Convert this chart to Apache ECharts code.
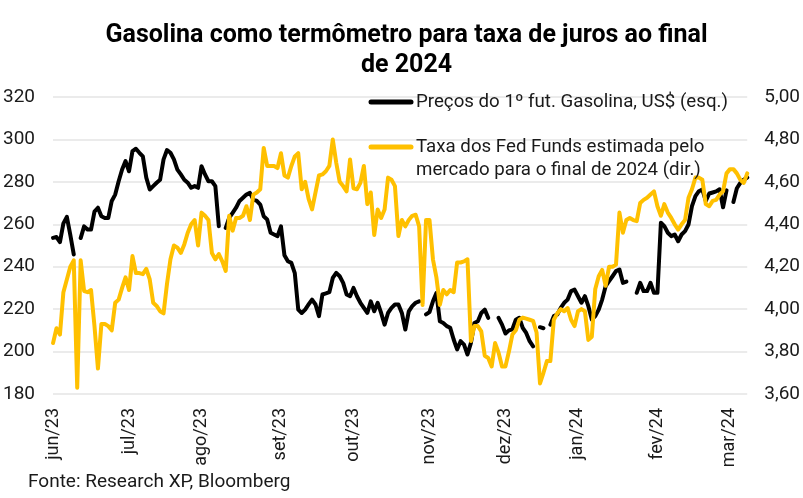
<!DOCTYPE html>
<html>
<head>
<meta charset="utf-8">
<script src="https://cdn.jsdelivr.net/npm/echarts@6/dist/echarts.min.js"></script>
<style>
html, body { margin: 0; padding: 0; background: #ffffff; }
#chart { width: 803px; height: 498px; }
</style>
</head>
<body>
<div id="chart"></div>
<script>
// ---- Data ----
const titleText = 'Gasolina como termômetro para taxa de juros ao final\nde 2024';
const sourceText = 'Fonte: Research XP, Bloomberg';
const gasName = 'Preços do 1º fut. Gasolina, US$ (esq.)';
const fedName = 'Taxa dos Fed Funds estimada pelo\nmercado para o final de 2024 (dir.)';
const monthNames = ['jan','fev','mar','abr','mai','jun','jul','ago','set','out','nov','dez'];
const firstDay = '2023-06-01';
const lastDay = '2024-03-08';
const leftTicks = [180, 200, 220, 240, 260, 280, 300, 320];
const rightTicks = [3.60, 3.80, 4.00, 4.20, 4.40, 4.60, 4.80, 5.00];

// Front-month gasoline futures, US$ cents/gal (left axis), one value per trading day
const gasoline = [
  253.6, 254, 251.6, 260.4, 263.5, 255, 245.8, null, 253.5, 259,
  257.5, 257.5, 266, 267.8, 263.8, 263, 263, 271, 274, 280.3,
  285.8, 289.8, 285, 294.5, 295.6, 293.7, 292, 282, 276.4, 278,
  279.6, 281, 290.6, 295, 293.7, 290.6, 285.8, 283.5, 281, 279.6,
  277.2, 278, 277.2, 287.4, 283.5, 280.3, 280.3, 278, 259.1, null,
  258.3, 263, 265.4, 267.8, 271, 272.5, 274, 274.8, 271.7, 271,
  269.3, 263.8, 262.3, 256, 255.2, 254.4, 259, 245.4, 242.6, 241.8,
  237, 219.8, 218.2, 219.8, 222.2, 224.5, 222.2, 216.7, 226.9, 227.4,
  228, 234.7, 237.1, 235.5, 232.4, 226.9, 226.1, 230, 226.1, 223,
  220.6, 218.2, 223.7, 219, 223, 218.2, 212.7, 218.2, 220.6, 222.2,
  222.2, 218.2, 210.4, 219, 221.4, 223, 223.7, null, 217.5, 218.6,
  223.7, 227.6, 214.3, 213.5, 212, 211.2, 205.7, 201, 204.9, 203.3,
  198.6, 204.1, 213.5, 214.3, 218.2, 219.8, 215.9, null, null, 215.9,
  212.7, 208.5, 210, 210.5, 215, 215.9, 211.2, 208.8, 204.9, 202.5,
  null, 211.5, 211, null, 212.7, 216.7, 217.5, 220.6, 223, 224.5,
  228.5, 229.2, 226.1, 223, 226.1, 221.4, 215.1, 216.7, 219.8, 224.5,
  230.8, 233.2, 235.5, 237.9, 238.7, 232.4, 233, null, null, 227.7,
  232.4, 228.5, 228.5, 232.4, 227.7, 227.7, 260.7, 259.1, 256, 254.4,
  255.2, 252, 255.2, 256.8, 259.9, 268.6, 273.3, 275.6, 276.4, 271,
  274.5, 275, 275.5, 276.5, 268, 276, null, 270.5, 277, 279.5,
  281, 282
];

// Market-implied Fed Funds rate for end-2024, % (right axis)
const fedFunds = [
  3.84, 3.91, 3.88, 4.08, 4.14, 4.20, 4.23, 3.63, 4.23, 4.085,
  4.08, 4.09, 3.92, 3.72, 3.93, 3.93, 3.92, 3.90, 4.03, 4.045,
  4.10, 4.15, 4.09, 4.25, 4.17, 4.17, 4.165, 4.19, 4.14, 4.03,
  4.015, 3.99, 3.98, 4.12, 4.235, 4.30, 4.29, 4.265, 4.305, 4.36,
  4.40, 4.42, 4.30, 4.455, 4.44, 4.42, 4.265, 4.235, 4.26, 4.225,
  4.18, 4.44, 4.37, 4.43, 4.43, 4.44, 4.485, 4.42, 4.54, 4.55,
  4.565, 4.76, 4.675, 4.675, 4.675, 4.665, 4.735, 4.63, 4.62, 4.675,
  4.72, 4.735, 4.565, 4.60, 4.52, 4.47, 4.55, 4.63, 4.635, 4.65,
  4.675, 4.80, 4.69, 4.60, 4.58, 4.555, 4.705, 4.57, 4.565, 4.595,
  4.675, 4.495, 4.55, 4.35, 4.47, 4.43, 4.47, 4.62, 4.61, 4.58,
  4.345, 4.42, 4.39, 4.42, 4.44, 4.445, 4.39, 4.02, 4.42, 4.42,
  4.235, 4.15, 4.02, 4.09, 4.07, 4.09, 4.08, 4.22, 4.22, 4.225,
  4.235, 3.85, 3.92, 3.92, 3.895, 3.78, 3.77, 3.73, 3.84, 3.795,
  3.73, 3.73, 3.80, 3.88, 3.90, 3.95, 3.96, 3.955, 3.95, 3.945,
  3.89, 3.65, 3.70, 3.755, 3.755, 3.95, 3.98, 4.00, 3.99, 4.005,
  3.95, 3.92, 3.99, 4.00, 3.99, 3.855, 3.87, 4.095, 4.155, 4.185,
  4.11, 4.20, 4.20, 4.21, 4.455, 4.36, 4.42, 4.43, 4.42, 4.415,
  4.50, 4.515, 4.525, 4.54, 4.555, 4.485, 4.44, 4.495, 4.455, 4.43,
  4.40, 4.375, 4.40, 4.42, 4.525, 4.565, 4.62, 4.62, 4.61, 4.495,
  4.485, 4.51, 4.515, 4.54, 4.555, 4.64, 4.66, 4.66, 4.64, 4.61,
  4.595, 4.64
];

// ---- Trading-day categories (weekdays) ----
function buildTradingDays(a, b) {
  const out = [];
  const d = new Date(a + 'T00:00:00Z');
  const end = new Date(b + 'T00:00:00Z');
  while (d <= end) {
    const wd = d.getUTCDay();
    if (wd !== 0 && wd !== 6) out.push(d.toISOString().slice(0, 10));
    d.setUTCDate(d.getUTCDate() + 1);
  }
  return out;
}
const days = buildTradingDays(firstDay, lastDay);

const FONT = 'Roboto, "Noto Sans", sans-serif';
const TEXT = '#1a1a1a';
const BLACK = '#000000';
const GOLD = '#FFC000';

const chart = echarts.init(document.getElementById('chart'), null, { renderer: 'canvas' });

chart.setOption({
  backgroundColor: '#ffffff',
  animation: false,
  textStyle: { fontFamily: FONT },
  title: {
    text: titleText,
    left: '50%',
    top: 16,
    textAlign: 'center',
    textStyle: { fontFamily: FONT, fontSize: 25, fontWeight: 'bold', color: '#000', lineHeight: 30 }
  },
  grid: { left: 53, right: 55, top: 97, bottom: 104, containLabel: false },
  xAxis: {
    type: 'category',
    data: days,
    boundaryGap: false,
    axisLine: { show: false },
    axisTick: { show: false },
    splitLine: { show: false },
    axisLabel: {
      rotate: 90,
      margin: 14,
      fontSize: 18,
      color: TEXT,
      fontFamily: FONT,
      interval: function (idx, val) {
        return idx === 0 || val.slice(0, 7) !== days[idx - 1].slice(0, 7);
      },
      formatter: function (val) {
        const m = parseInt(val.slice(5, 7), 10) - 1;
        return monthNames[m] + '/' + val.slice(2, 4);
      }
    }
  },
  yAxis: [
    {
      type: 'value',
      position: 'left',
      min: leftTicks[0],
      max: leftTicks[leftTicks.length - 1],
      interval: leftTicks[1] - leftTicks[0],
      axisLine: { show: false },
      axisTick: { show: false },
      axisLabel: { fontSize: 19, color: TEXT, margin: 18, fontFamily: FONT },
      splitLine: { show: true, lineStyle: { color: '#ebebeb', width: 2 } }
    },
    {
      type: 'value',
      position: 'right',
      min: rightTicks[0],
      max: rightTicks[rightTicks.length - 1],
      interval: 0.2,
      axisLine: { show: false },
      axisTick: { show: false },
      axisLabel: {
        fontSize: 19, color: TEXT, margin: 17, fontFamily: FONT,
        formatter: function (v) { return v.toFixed(2).replace('.', ','); }
      },
      splitLine: { show: false }
    }
  ],
  series: [
    {
      name: gasName,
      type: 'line',
      yAxisIndex: 0,
      data: gasoline,
      showSymbol: false,
      symbol: 'none',
      connectNulls: false,
      lineStyle: { color: BLACK, width: 4, join: 'round', cap: 'round' },
      itemStyle: { color: BLACK },
      z: 2
    },
    {
      name: fedName,
      type: 'line',
      yAxisIndex: 1,
      data: fedFunds,
      showSymbol: false,
      symbol: 'none',
      lineStyle: { color: GOLD, width: 4, join: 'round', cap: 'round' },
      itemStyle: { color: GOLD },
      z: 3
    }
  ],
  graphic: [
    { type: 'line', shape: { x1: 371, y1: 102, x2: 411, y2: 102 }, style: { stroke: BLACK, lineWidth: 5, lineCap: 'round' }, z: 10 },
    { type: 'text', x: 416, y: 102, style: { text: gasName, fontSize: 18.7, fontFamily: FONT, fill: TEXT, verticalAlign: 'middle', align: 'left' }, z: 10 },
    { type: 'line', shape: { x1: 371, y1: 147, x2: 411, y2: 147 }, style: { stroke: GOLD, lineWidth: 5, lineCap: 'round' }, z: 10 },
    { type: 'text', x: 416, y: 136, style: { text: fedName, fontSize: 18.7, fontFamily: FONT, fill: TEXT, verticalAlign: 'top', align: 'left', lineHeight: 23 }, z: 10 },
    { type: 'text', x: 28, y: 482, style: { text: sourceText, fontSize: 19, fontFamily: FONT, fill: TEXT, verticalAlign: 'middle', align: 'left' }, z: 10 }
  ]
});
</script>
</body>
</html>
